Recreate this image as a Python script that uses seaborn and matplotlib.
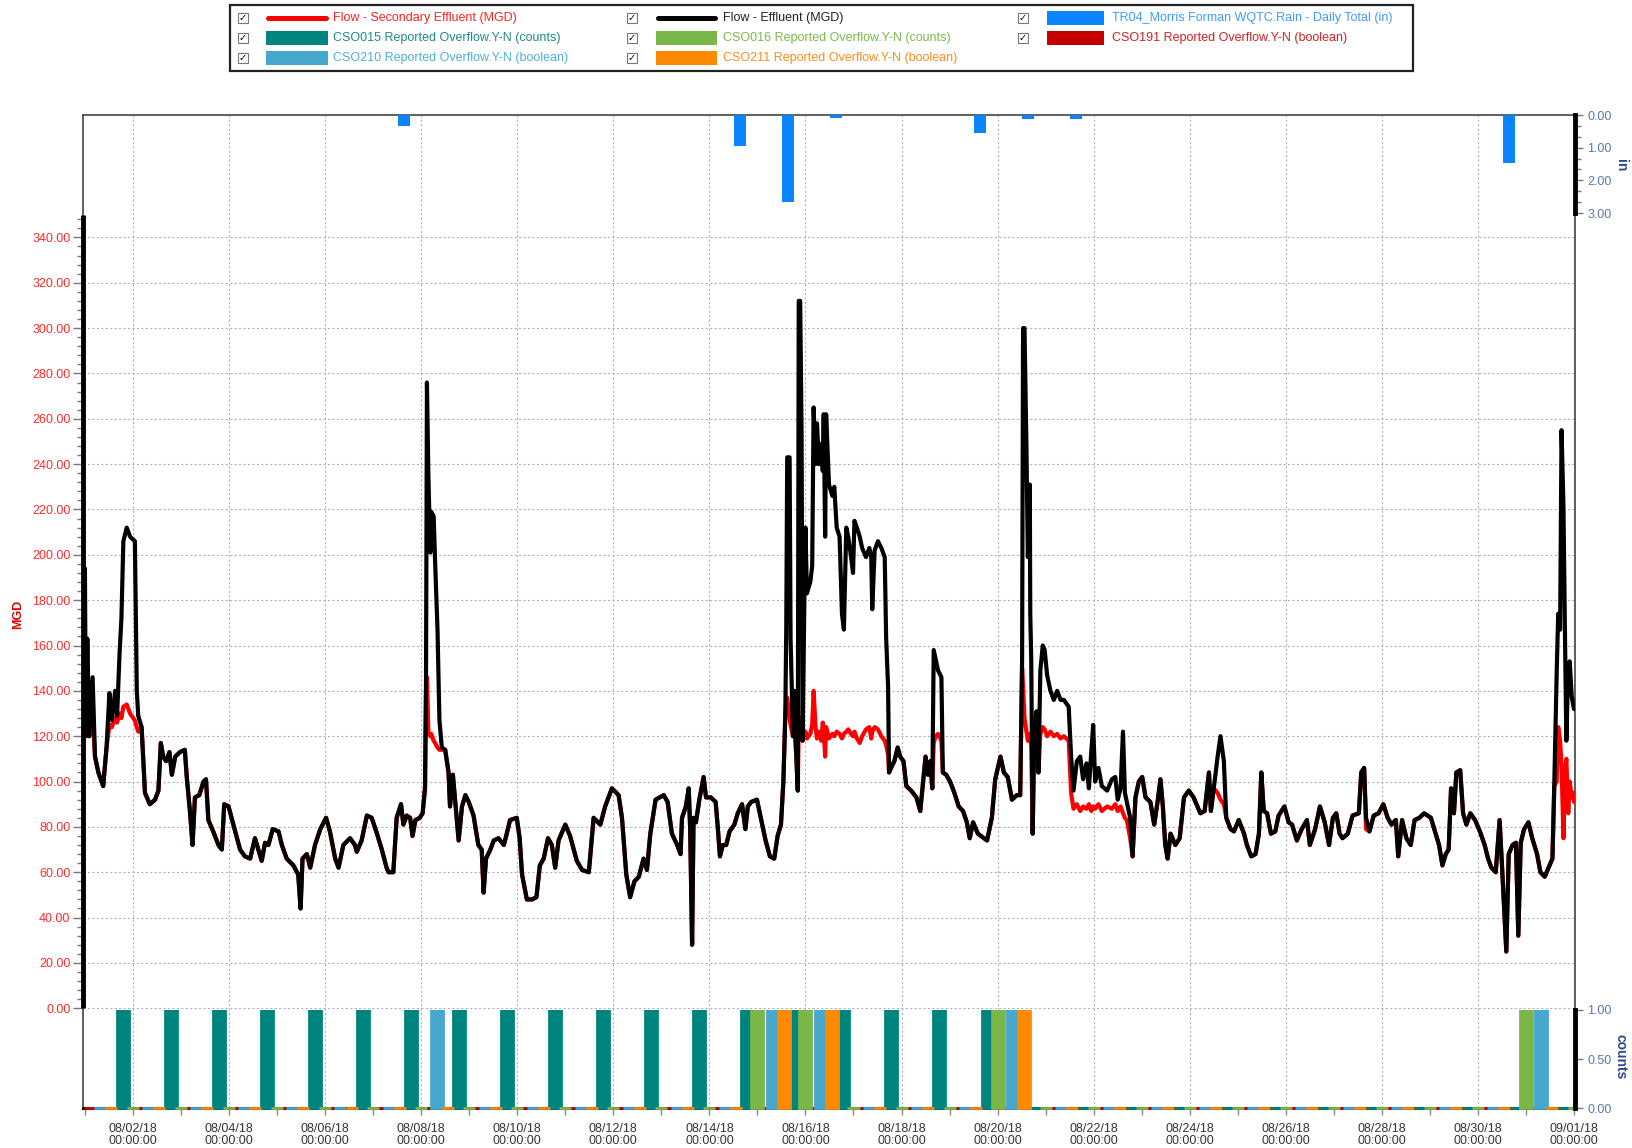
import numpy as np
import pandas as pd
import matplotlib
matplotlib.use("Agg")
import matplotlib.pyplot as plt
import matplotlib.dates as mdates
from matplotlib.patches import Rectangle
from matplotlib.ticker import FixedLocator, FuncFormatter
import seaborn as sns

# ---------------- data ----------------
start_date = "2018-08-01 00:00"

# time in days after 08/01/18 00:00
flow_day = [
    0.00, 0.02, 0.05, 0.09, 0.16, 0.21, 0.28, 0.38, 0.45, 0.51, 0.56, 0.63, 0.67, 0.72, 0.76, 0.80,
    0.87, 0.94, 1.04, 1.08, 1.11, 1.18, 1.25, 1.35, 1.46, 1.53, 1.58, 1.63, 1.69, 1.76, 1.81, 1.88,
    1.98, 2.08, 2.12, 2.19, 2.24, 2.29, 2.38, 2.47, 2.52, 2.57, 2.67, 2.78, 2.85, 2.90, 2.99, 3.09,
    3.23, 3.33, 3.44, 3.54, 3.61, 3.68, 3.75, 3.82, 3.91, 4.03, 4.10, 4.20, 4.34, 4.44, 4.49, 4.53,
    4.62, 4.69, 4.79, 4.90, 5.02, 5.10, 5.21, 5.28, 5.38, 5.52, 5.62, 5.66, 5.76, 5.87, 5.97, 6.08,
    6.18, 6.28,
    6.32, 6.42, 6.49, 6.58, 6.63, 6.70, 6.77, 6.82, 6.88, 6.97, 7.03, 7.08, 7.10, 7.12, 7.15, 7.19,
    7.21, 7.26, 7.29, 7.34, 7.38, 7.43, 7.50, 7.57, 7.60, 7.66, 7.71, 7.78, 7.85, 7.92, 7.99, 8.09,
    8.19, 8.26, 8.30, 8.35, 8.44, 8.51, 8.61, 8.72, 8.77, 8.85, 8.99, 9.05, 9.10, 9.20, 9.31, 9.40,
    9.47, 9.55, 9.64, 9.72, 9.79, 9.86, 10.00, 10.10, 10.24, 10.35, 10.49, 10.59, 10.73, 10.83, 10.97, 11.11,
    11.18, 11.27, 11.35, 11.44, 11.53, 11.63, 11.70, 11.77, 11.88, 12.05, 12.13, 12.22, 12.33, 12.40,
    12.43, 12.51, 12.57, 12.60, 12.64, 12.67, 12.72, 12.79, 12.88, 12.93, 13.03, 13.13, 13.17, 13.22, 13.28, 13.35,
    13.42, 13.52, 13.59, 13.68, 13.75, 13.80, 13.87, 13.99, 14.08, 14.17, 14.26, 14.35, 14.42, 14.49, 14.54, 14.58,
    14.60, 14.62, 14.67, 14.69, 14.74, 14.77, 14.81, 14.84, 14.86, 14.89, 14.92, 14.94, 14.98, 15.00, 15.03, 15.10,
    15.14, 15.17, 15.21, 15.24, 15.28, 15.33, 15.36, 15.38, 15.41, 15.43, 15.49, 15.56, 15.60, 15.65, 15.71, 15.76,
    15.80, 15.85, 15.89, 15.95, 15.99, 16.02, 16.07, 16.13, 16.18, 16.26, 16.33, 16.37, 16.39, 16.44, 16.51, 16.58,
    16.65, 16.68, 16.72, 16.74, 16.78, 16.85, 16.92, 16.97, 17.04, 17.10, 17.20, 17.31, 17.39, 17.44, 17.50, 17.55,
    17.60, 17.64, 17.67, 17.71, 17.76, 17.83, 17.86, 17.93, 18.01, 18.10, 18.19, 18.28, 18.36, 18.42, 18.49, 18.59,
    18.78, 18.88, 18.95, 19.06, 19.13, 19.21, 19.30, 19.40, 19.47, 19.51, 19.53, 19.56, 19.60, 19.63, 19.67, 19.68,
    19.70, 19.73, 19.76, 19.81, 19.85, 19.89, 19.94, 19.98, 20.03, 20.10, 20.17, 20.24, 20.31, 20.38, 20.48, 20.53,
    20.58, 20.65, 20.72, 20.78, 20.85, 20.90, 20.95, 20.99, 21.03, 21.10, 21.17, 21.28, 21.38, 21.45, 21.50, 21.56,
    21.61, 21.65, 21.69, 21.76, 21.81, 21.87, 21.94, 22.01, 22.08, 22.18, 22.26, 22.33, 22.39, 22.44, 22.49, 22.54,
    22.60, 22.70, 22.79, 22.88, 22.98, 23.08, 23.22, 23.31, 23.40, 23.44, 23.50, 23.58, 23.64, 23.71, 23.76, 23.85,
    23.92, 24.02, 24.13, 24.19, 24.28, 24.37, 24.44, 24.49, 24.54, 24.61, 24.69, 24.78, 24.85, 24.97, 25.06,
    25.13, 25.23, 25.33, 25.44, 25.50, 25.61, 25.71, 25.81, 25.90, 25.98, 26.05, 26.12, 26.18, 26.29, 26.39, 26.52,
    26.57, 26.63, 26.67, 26.74, 26.83, 26.93, 27.03, 27.12, 27.20, 27.29, 27.34, 27.42, 27.51, 27.60, 27.68, 27.78,
    27.88, 28.02, 28.12, 28.19, 28.26, 28.33, 28.39, 28.44, 28.50, 28.55, 28.63, 28.69, 28.76, 28.84, 28.94, 29.04,
    29.14, 29.21, 29.28, 29.37, 29.45, 29.50, 29.59, 29.64, 29.72, 29.79, 29.84, 29.89, 29.96, 30.05, 30.13, 30.23,
    30.30, 30.39, 30.47, 30.55, 30.59, 30.64, 30.67, 30.71, 30.74, 30.78, 30.81, 30.84, 30.88, 30.91, 30.95, 30.98,
    31.00,
]

# Flow - Effluent (MGD)
effluent_mgd = [
    194, 120, 163, 120, 146, 111, 104, 98, 115, 139, 127, 140, 129, 156, 172, 206,
    212, 208, 206, 140, 129, 124, 95, 90, 92, 96, 117, 111, 109, 113, 103, 111,
    113, 114, 102, 86, 72, 93, 94, 100, 101, 83, 78, 72, 70, 90, 89, 81,
    70, 67, 66, 75, 70, 65, 73, 72, 79, 78, 72, 66, 63, 59, 44, 66,
    68, 62, 72, 79, 84, 78, 66, 62, 72, 75, 72, 69, 74, 85, 84, 77,
    70, 62,
    60, 60, 84, 90, 81, 85, 84, 76, 83, 84, 86, 97, 140, 276, 235, 201,
    219, 217, 197, 167, 127, 115, 114, 104, 89, 103, 91, 74, 89, 94, 91, 85,
    72, 70, 51, 66, 70, 74, 75, 72, 76, 83, 84, 75, 59, 48, 48, 49,
    63, 66, 75, 72, 62, 74, 81, 76, 65, 61, 60, 84, 81, 89, 97, 94,
    84, 59, 49, 56, 58, 66, 61, 77, 92, 94, 91, 77, 72, 68,
    84, 89, 97, 79, 28, 84, 82, 92, 102, 93, 93, 91, 81, 67, 72, 72,
    78, 81, 86, 90, 79, 89, 91, 92, 83, 74, 67, 66, 76, 81, 100, 129,
    167, 243, 243, 163, 120, 140, 111, 96, 312, 312, 252, 118, 185, 212, 183, 188,
    195, 265, 240, 258, 240, 249, 237, 262, 208, 262, 231, 226, 230, 212, 208, 174,
    167, 212, 208, 199, 192, 215, 212, 208, 203, 199, 203, 199, 176, 202, 206, 203,
    199, 163, 142, 104, 106, 109, 115, 111, 109, 98, 96, 93, 87, 98, 111, 103,
    109, 97, 158, 154, 149, 146, 104, 103, 100, 95, 89, 87, 82, 75, 82, 77,
    74, 84, 101, 111, 104, 102, 92, 94, 94, 154, 300, 300, 248, 199, 231, 174,
    154, 77, 118, 131, 104, 149, 160, 158, 147, 140, 136, 140, 136, 136, 133, 111,
    96, 109, 111, 101, 108, 97, 113, 125, 100, 106, 98, 96, 101, 102, 92, 97,
    122, 95, 91, 84, 67, 93, 100, 102, 93, 91, 81, 91, 101, 89, 72, 66,
    77, 72, 75, 93, 96, 93, 86, 87, 104, 87, 97, 111, 120, 109, 84, 79,
    78, 83, 77, 72, 67, 68, 77, 104, 87, 86, 77, 78, 85, 89, 82,
    81, 74, 79, 83, 72, 79, 89, 82, 72, 84, 86, 77, 75, 77, 85, 86,
    104, 106, 84, 78, 85, 86, 90, 84, 81, 83, 67, 83, 75, 72, 83, 84,
    86, 84, 77, 72, 63, 68, 70, 97, 86, 104, 105, 86, 81, 86, 83, 78,
    72, 66, 62, 60, 83, 63, 25, 68, 72, 73, 32, 73, 79, 82, 75, 68,
    60, 58, 62, 66, 100, 149, 174, 167, 255, 221, 167, 118, 151, 153, 138, 134,
    132,
]

# Flow - Secondary Effluent (MGD)
secondary_mgd = [
    132, 120, 130, 120, 128, 111, 104, 98, 115, 125, 124, 128, 126, 130, 128, 133,
    134, 130, 127, 124, 122, 124, 95, 90, 92, 96, 117, 111, 109, 113, 103, 111,
    113, 114, 102, 86, 72, 93, 94, 100, 101, 83, 78, 72, 70, 90, 89, 81,
    70, 67, 66, 75, 70, 65, 73, 72, 79, 78, 72, 66, 63, 59, 44, 66,
    68, 62, 72, 79, 84, 78, 66, 62, 72, 75, 72, 69, 74, 85, 84, 77,
    70, 62,
    60, 60, 84, 90, 81, 85, 84, 76, 83, 84, 86, 97, 140, 146, 122, 120,
    121, 118, 117, 115, 114, 114, 114, 104, 89, 103, 91, 74, 89, 94, 91, 85,
    72, 70, 51, 66, 70, 74, 75, 72, 76, 83, 84, 75, 59, 48, 48, 49,
    63, 66, 75, 72, 62, 74, 81, 76, 65, 61, 60, 84, 81, 89, 97, 94,
    84, 59, 49, 56, 58, 66, 61, 77, 92, 94, 91, 77, 72, 68,
    84, 89, 97, 79, 28, 84, 82, 92, 102, 93, 93, 91, 81, 67, 72, 72,
    78, 81, 86, 90, 79, 89, 91, 92, 83, 74, 67, 66, 76, 81, 100, 129,
    135, 137, 128, 125, 120, 122, 111, 96, 125, 128, 122, 118, 120, 122, 119, 121,
    125, 140, 124, 119, 122, 118, 126, 122, 111, 124, 119, 121, 120, 122, 121, 119,
    121, 122, 123, 121, 120, 122, 119, 117, 120, 123, 124, 119, 122, 124, 123, 120,
    118, 116, 112, 104, 106, 109, 115, 111, 109, 98, 96, 93, 87, 98, 111, 103,
    109, 97, 117, 120, 121, 118, 104, 103, 100, 95, 89, 87, 82, 75, 82, 77,
    74, 84, 101, 111, 104, 102, 92, 94, 94, 150, 142, 128, 122, 118, 121, 119,
    116, 77, 118, 124, 104, 121, 124, 123, 120, 122, 120, 121, 119, 120, 118, 95,
    88, 90, 87, 89, 88, 90, 87, 89, 88, 90, 87, 89, 88, 90, 87, 89,
    86, 84, 83, 75, 67, 93, 100, 102, 93, 91, 81, 91, 101, 89, 72, 66,
    77, 72, 75, 93, 96, 93, 86, 87, 104, 87, 97, 95, 92, 90, 84, 79,
    78, 83, 77, 72, 67, 68, 77, 104, 87, 86, 77, 78, 85, 89, 82,
    81, 74, 79, 83, 72, 79, 89, 82, 72, 84, 86, 77, 75, 77, 85, 86,
    104, 106, 79, 78, 85, 86, 90, 84, 81, 83, 67, 83, 75, 72, 83, 84,
    86, 84, 77, 72, 63, 68, 70, 97, 86, 104, 105, 86, 81, 86, 83, 78,
    72, 66, 62, 60, 83, 63, 25, 68, 72, 73, 32, 73, 79, 82, 75, 68,
    60, 58, 62, 66, 98, 100, 124, 118, 107, 75, 104, 110, 86, 100, 93, 95,
    91,
]

# TR04 Morris Forman WQTC Rain - daily total (in)
rain_day = [6, 13, 14, 15, 18, 19, 20, 29]            # day index after 08/01
rain_in = [0.35, 0.95, 2.65, 0.08, 0.55, 0.12, 0.12, 1.48]

# Reported overflows, one value per day 08/01 .. 08/31
overflow_day = list(range(31))
cso015_counts = [1, 1, 1, 1, 1, 1, 1, 1, 1, 1, 1, 1, 1, 1, 1, 1, 1, 1, 1, 0, 0, 0, 0, 0, 0, 0, 0, 0, 0, 0, 0]
cso016_counts = [0, 0, 0, 0, 0, 0, 0, 0, 0, 0, 0, 0, 0, 1, 1, 0, 0, 0, 1, 0, 0, 0, 0, 0, 0, 0, 0, 0, 0, 1, 0]
cso191_bool   = [0, 0, 0, 0, 0, 0, 0, 0, 0, 0, 0, 0, 0, 0, 0, 0, 0, 0, 0, 0, 0, 0, 0, 0, 0, 0, 0, 0, 0, 0, 0]
cso210_bool   = [0, 0, 0, 0, 0, 0, 0, 1, 0, 0, 0, 0, 0, 0, 1, 1, 0, 0, 0, 1, 0, 0, 0, 0, 0, 0, 0, 0, 0, 0, 1]
cso211_bool   = [0, 0, 0, 0, 0, 0, 0, 0, 0, 0, 0, 0, 0, 0, 1, 1, 0, 0, 0, 1, 0, 0, 0, 0, 0, 0, 0, 0, 0, 0, 0]

legend_labels = [
    "Flow - Secondary Effluent (MGD)", "Flow - Effluent (MGD)",
    "TR04_Morris Forman WQTC.Rain - Daily Total (in)",
    "CSO015 Reported Overflow.Y-N (counts)", "CSO016 Reported Overflow.Y-N (counts)",
    "CSO191 Reported Overflow.Y-N (boolean)",
    "CSO210 Reported Overflow.Y-N (boolean)", "CSO211 Reported Overflow.Y-N (boolean)",
]

# ---------------- styling ----------------
sns.set_style("white")
plt.rcParams["font.family"] = ["Liberation Sans", "DejaVu Sans"]

C_RED = "#FF0000"
C_RAIN = "#0A84FF"
C_TEAL = "#00847F"
C_GREEN = "#7AB648"
C_LBLUE = "#45A8CC"
C_ORANGE = "#FF8A00"
C_DRED = "#C40000"
C_RTICK = "#5B78B0"
C_RLAB = "#2E4A87"

W, H = 1633, 1148
fig = plt.figure(figsize=(W / 100, H / 100), dpi=100)


def box(x0, y0, x1, y1):
    return [x0 / W, 1 - y1 / H, (x1 - x0) / W, (y1 - y0) / H]


L, R, T, B = 83, 1575, 115, 1108
t0 = pd.Timestamp(start_date)

# ---------------- main (MGD) axes ----------------
ax = fig.add_axes(box(L, T, R, B))
ax.set_facecolor("white")
df = pd.DataFrame({
    "time": t0 + pd.to_timedelta(flow_day, unit="D"),
    "effluent": effluent_mgd,
    "secondary": secondary_mgd,
})
sns.lineplot(data=df, x="time", y="secondary", ax=ax, color=C_RED, lw=3.0,
             estimator=None, sort=False, zorder=3)
sns.lineplot(data=df, x="time", y="effluent", ax=ax, color="black", lw=3.0,
             estimator=None, sort=False, zorder=4)
ax.set_xlabel("")
ax.set_ylabel("")
ax.set_ylim(-44, 394)
ax.set_xlim(mdates.date2num(t0 - pd.Timedelta(days=0.04)),
            mdates.date2num(t0 + pd.Timedelta(days=31.02)))

ax.yaxis.set_major_locator(FixedLocator(list(range(0, 341, 20))))
ax.yaxis.set_minor_locator(FixedLocator(list(range(0, 352, 4))))
ax.yaxis.set_major_formatter(FuncFormatter(lambda v, p: f"{v:.2f}"))
ax.tick_params(axis="y", which="major", length=7, width=1, color="#777777",
               labelsize=9, labelcolor="#FF2A2A", pad=2, left=True)
ax.tick_params(axis="y", which="minor", length=4, width=1, color="#777777", left=True)

major_days = [t0 + pd.Timedelta(days=d) for d in range(1, 32, 2)]
ax.xaxis.set_major_locator(FixedLocator(mdates.date2num(major_days)))
ax.xaxis.set_minor_locator(FixedLocator(mdates.date2num([t0 + pd.Timedelta(days=d) for d in range(0, 32)])))
ax.xaxis.set_major_formatter(mdates.DateFormatter("%m/%d/%y\n%H:%M:%S"))
ax.tick_params(axis="x", which="major", length=5, width=1, color="#888888",
               labelsize=9, labelcolor="#333333", pad=6, bottom=True)
ax.tick_params(axis="x", which="minor", length=5, width=1, color="#888888", bottom=True)
for lab in ax.get_xticklabels():
    lab.set_linespacing(1.0)

ax.grid(True, which="major", axis="both", color="#B4B4B4", ls=(0, (2, 2)), lw=0.8)
for s in ["top", "right", "left"]:
    ax.spines[s].set_color("#444444")
    ax.spines[s].set_linewidth(1.2)
ax.spines["bottom"].set_color("black")
ax.spines["bottom"].set_linewidth(2.2)
# thick axis line for the MGD range
ax.plot([0, 0], [0, 350], transform=ax.get_yaxis_transform(), color="black",
        lw=3.5, solid_capstyle="butt", clip_on=False, zorder=6)

# ---------------- rain axes (inverted, top) ----------------
ax_r = fig.add_axes(box(L, T, R, 213), sharex=ax)
ax_r.set_facecolor("none")
rain_x = mdates.date2num([t0 + pd.Timedelta(days=d + 0.64) for d in rain_day])
ax_r.bar(rain_x, rain_in, width=0.25, color=C_RAIN, lw=0, zorder=2)
ax_r.set_ylim(3, 0)
for s in ["top", "left", "bottom"]:
    ax_r.spines[s].set_visible(False)
ax_r.spines["right"].set_linewidth(3.5)
ax_r.spines["right"].set_color("black")
ax_r.yaxis.tick_right()
ax_r.yaxis.set_major_locator(FixedLocator([0, 1, 2, 3]))
ax_r.yaxis.set_minor_locator(FixedLocator([1 / 3, 2 / 3, 4 / 3, 5 / 3, 7 / 3, 8 / 3]))
ax_r.yaxis.set_major_formatter(FuncFormatter(lambda v, p: f"{v:.2f}"))
ax_r.tick_params(axis="y", which="major", length=6, width=1, color="#777777",
                 labelsize=9, labelcolor=C_RTICK, pad=3, right=True, left=False)
ax_r.tick_params(axis="y", which="minor", length=4, width=1, color="#777777", right=True, left=False)
ax_r.tick_params(axis="x", which="both", bottom=False, labelbottom=False)
ax_r.grid(False)

# ---------------- overflow axes (bottom) ----------------
ax_c = fig.add_axes(box(L, 1010, R, 1110), sharex=ax)
ax_c.set_facecolor("none")
series = [
    (cso191_bool, C_DRED, 0.10),
    (cso210_bool, C_LBLUE, 0.32),
    (cso015_counts, C_TEAL, 0.79),
    (cso211_bool, C_ORANGE, 0.55),
    (cso016_counts, C_GREEN, 1.00),
]
for vals, col, off in series:
    xs = mdates.date2num([t0 + pd.Timedelta(days=d + off) for d in overflow_day])
    ax_c.bar(xs, vals, width=0.25, color=col, edgecolor=col, lw=2.0, zorder=2)
ax_c.set_ylim(-0.02, 1.0)
for s in ["top", "left", "bottom"]:
    ax_c.spines[s].set_visible(False)
ax_c.spines["right"].set_linewidth(3.5)
ax_c.spines["right"].set_color("black")
ax_c.spines["right"].set_bounds(0, 1)
ax_c.yaxis.tick_right()
ax_c.yaxis.set_major_locator(FixedLocator([0, 0.5, 1.0]))
ax_c.yaxis.set_major_formatter(FuncFormatter(lambda v, p: f"{v:.2f}"))
ax_c.tick_params(axis="y", which="major", length=6, width=1, color="#777777",
                 labelsize=9, labelcolor=C_RTICK, pad=3, right=True, left=False)
ax_c.tick_params(axis="x", which="both", bottom=False, labelbottom=False)
ax_c.grid(False)

# axis titles
fig.text(18 / W, 1 - 614 / H, "MGD", rotation=90, color="#E00000", fontsize=9,
         fontweight="bold", ha="center", va="center")
fig.text(1621 / W, 1 - 165 / H, "in", rotation=270, color=C_RLAB, fontsize=10,
         fontweight="bold", ha="center", va="center")
fig.text(1621 / W, 1 - 1057 / H, "counts", rotation=270, color=C_RLAB, fontsize=10,
         fontweight="bold", ha="center", va="center")

# ---------------- legend box ----------------
ov = fig.add_axes([0, 0, 1, 1], zorder=10)
ov.set_xlim(0, W)
ov.set_ylim(H, 0)
ov.axis("off")
ov.add_patch(Rectangle((230, 5), 1183, 66, fc="white", ec="#222222", lw=1.6))

rows = [18, 37.5, 58]
chk_x = [243, 632, 1023]
smp = [(266, 328), (656, 717), (1047, 1104)]
txt_x = [333, 723, 1112]
items = [
    (0, 0, "line", C_RED, legend_labels[0], "#FF2020"),
    (0, 1, "line", "black", legend_labels[1], "#222222"),
    (0, 2, "patch", C_RAIN, legend_labels[2], "#3D9BFF"),
    (1, 0, "patch", C_TEAL, legend_labels[3], "#1E8C87"),
    (1, 1, "patch", C_GREEN, legend_labels[4], "#7DBA4A"),
    (1, 2, "patch", C_DRED, legend_labels[5], "#D42020"),
    (2, 0, "patch", C_LBLUE, legend_labels[6], "#4FB0D5"),
    (2, 1, "patch", C_ORANGE, legend_labels[7], "#FF8C1A"),
]
for r, c, kind, col, lab, tcol in items:
    y = rows[r]
    cx = chk_x[c]
    ov.add_patch(Rectangle((cx - 5, y - 5), 10, 10, fc="white", ec="#777777", lw=0.8))
    ov.text(cx, y + 0.5, "\u2713", fontsize=7, ha="center", va="center", color="black",
            family=["DejaVu Sans"])
    x0, x1 = smp[c]
    if kind == "line":
        ov.plot([x0 + 2, x1 - 2], [y, y], color=col, lw=3.6, solid_capstyle="round")
    else:
        ov.add_patch(Rectangle((x0, y - 7), x1 - x0, 14, fc=col, ec="none"))
    ov.text(txt_x[c], y, lab, fontsize=9, color=tcol, ha="left", va="center")

fig.savefig("out.png", dpi=100)
